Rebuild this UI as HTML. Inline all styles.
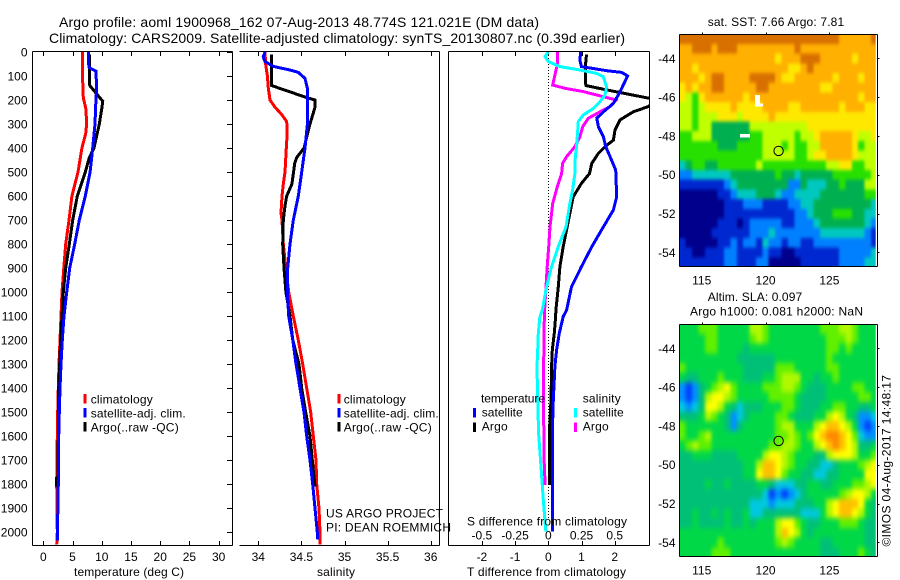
<!DOCTYPE html>
<html lang="en">
<head>
<meta charset="utf-8">
<title>Argo profile 1900968_162</title>
<style>
html,body{margin:0;padding:0;background:#fff;width:900px;height:580px;overflow:hidden}
svg{display:block;font-family:"Liberation Sans",sans-serif;font-size:12px;fill:#000}
text{fill:#000}
</style>
</head>
<body>
<svg id="chart" xmlns="http://www.w3.org/2000/svg" width="900" height="580" viewBox="0 0 900 580">
<defs>
<clipPath id="clip-diff"><rect x="449" y="52" width="200" height="493"/></clipPath>
<clipPath id="clip-map1"><rect x="679.3" y="34.3" width="196.4" height="231.7"/></clipPath>
<clipPath id="clip-map2"><rect x="679.3" y="324.3" width="196.4" height="231.7"/></clipPath>
<filter id="soft-sst" filterUnits="userSpaceOnUse" x="660" y="20" width="240" height="260" color-interpolation-filters="sRGB">
<feGaussianBlur in="SourceGraphic" stdDeviation="1.3 1.9" result="b"/>
<feMerge><feMergeNode in="SourceGraphic"/><feMergeNode in="b"/></feMerge>
</filter>
<filter id="soft-sla" filterUnits="userSpaceOnUse" x="660" y="310" width="240" height="260" color-interpolation-filters="sRGB">
<feGaussianBlur in="SourceGraphic" stdDeviation="1.8 2.6" result="b"/>
<feMerge><feMergeNode in="SourceGraphic"/><feMergeNode in="b"/></feMerge>
</filter>
</defs>
<text x="59" y="27" font-size="14" textLength="480">Argo profile: aoml 1900968_162 07-Aug-2013 48.774S 121.021E (DM data)</text>
<text x="49" y="43" font-size="14" textLength="576">Climatology: CARS2009. Satellite-adjusted climatology: synTS_20130807.nc (0.39d earlier)</text>
<g id="layer-maps"></g>
<g id="layer-lines"></g>

<text x="74" y="576" textLength="110">temperature (deg C)</text>
<text x="317" y="576" textLength="38">salinity</text>
<text x="467" y="576" textLength="159">T difference from climatology</text>
<text x="467" y="525.5" textLength="160">S difference from climatology</text>

<g>
<rect x="83.5" y="394" width="3" height="9.5" fill="#f00"/>
<rect x="83.5" y="408" width="3" height="9.5" fill="#00f"/>
<rect x="83.5" y="422" width="3" height="9.5" fill="#000"/>
<text x="90.7" y="403.3" textLength="62">climatology</text>
<text x="90.7" y="417.3" textLength="95">satellite-adj. clim.</text>
<text x="90.7" y="431.3" textLength="88">Argo(..raw -QC)</text>
</g>
<g>
<rect x="337.5" y="394" width="3" height="9.5" fill="#f00"/>
<rect x="337.5" y="408" width="3" height="9.5" fill="#00f"/>
<rect x="337.5" y="422" width="3" height="9.5" fill="#000"/>
<text x="343.7" y="403.3" textLength="62">climatology</text>
<text x="343.7" y="417.3" textLength="95">satellite-adj. clim.</text>
<text x="343.7" y="431.3" textLength="88">Argo(..raw -QC)</text>
</g>
<g>
<text x="481" y="402.7" textLength="64">temperature</text>
<text x="582.7" y="402.7" textLength="38">salinity</text>
<rect x="473" y="408" width="3" height="9.5" fill="#00f"/>
<rect x="473" y="422.5" width="3" height="9.5" fill="#000"/>
<rect x="574" y="408" width="3" height="9.5" fill="#0ff"/>
<rect x="574" y="422.5" width="3" height="9.5" fill="#f0f"/>
<text x="481.7" y="416.7" textLength="41">satellite</text>
<text x="481.7" y="430.7" textLength="26">Argo</text>
<text x="582.7" y="416.7" textLength="41">satellite</text>
<text x="582.7" y="430.7" textLength="26">Argo</text>
</g>
<text x="326" y="517.3" textLength="117">US ARGO PROJECT</text>
<text x="326" y="531.7" textLength="125">PI: DEAN ROEMMICH</text>

<text x="707.7" y="26" textLength="136.5">sat. SST: 7.66 Argo: 7.81</text>
<text x="707.7" y="301" textLength="94.5">Altim. SLA: 0.097</text>
<text x="690" y="315.7" textLength="173">Argo h1000: 0.081 h2000: NaN</text>
<text transform="translate(890.5,546.5) rotate(-90)" x="0" y="0" textLength="171.5">©IMOS 04-Aug-2017 14:48:17</text>
</svg>
<script>
// ---- profile data: depths (m) and values ----
const tempClimDepth = [0,100,190,240,300,340,400,500,600,700,800,900,1000,1100,1200,1300,1400,1500,1600,1800,2000,2052];
const tempClim = [6.68,6.7,6.85,7.3,7.4,7.25,6.6,5.94,4.9,4.4,3.83,3.5,3.2,3.03,2.86,2.69,2.57,2.46,2.4,2.29,2.4,2.29];
const tempSatDepth = [0,50,65,80,150,200,300,400,500,600,700,800,900,1000,1100,1200,1300,1400,1500,1600,1700,1800,1900,2000,2035];
const tempSat = [7.7,7.75,7.85,9.0,9.13,9.0,8.85,8.45,8.0,7.19,6.16,5.37,4.51,4.0,3.54,3.25,3.03,2.86,2.74,2.63,2.57,2.57,2.5,2.4,2.4];
const tempArgoDepth = [10,130,140,205,230,300,400,440,500,600,700,800,900,1000,1100,1200,1300,1400,1500,1600,1770,1775,1810];
const tempArgo = [7.87,7.87,7.95,10.16,10.04,9.58,8.67,7.87,7.19,5.82,5.03,4.45,3.83,3.42,3.2,2.98,2.81,2.63,2.57,2.57,2.5,2.22,2.22];

const salClimDepth = [0,50,100,150,200,230,260,290,340,400,500,550,600,670,700,800,900,1000,1100,1200,1300,1400,1500,1600,1700,1800,1900,2000,2052];
const salClim = [34.078,34.085,34.105,34.116,34.136,34.194,34.27,34.33,34.335,34.325,34.31,34.29,34.275,34.263,34.275,34.29,34.32,34.353,34.406,34.464,34.515,34.561,34.608,34.638,34.669,34.677,34.704,34.716,34.716];
const salSatDepth = [0,20,40,60,75,85,110,150,300,400,500,600,700,800,900,1000,1100,1200,1300,1400,1500,1600,1700,1800,1900,2000,2030];
const salSat = [34.078,34.058,34.078,34.174,34.368,34.464,34.542,34.568,34.57,34.542,34.503,34.464,34.406,34.368,34.341,34.337,34.353,34.4,34.437,34.484,34.53,34.561,34.6,34.631,34.658,34.684,34.69];
const salArgoDepth = [10,130,140,190,200,230,300,400,440,465,550,600,640,700,800,900,1000,1100,1200,1300,1400,1500,1600,1700,1810];
const salArgo = [34.155,34.155,34.155,34.561,34.658,34.658,34.6,34.53,34.445,34.422,34.39,34.33,34.31,34.29,34.283,34.298,34.32,34.368,34.4,34.472,34.503,34.55,34.6,34.626,34.658];

const dTSatDepth = [0,33,61,78,85,100,131,172,214,249,276,311,353,394,436,492,603,658,728,811,894,978,1075,1102,1171,1241,1310,1449,1588,1998];
const dTSat = [0.98,0.95,1.0,1.76,2.21,2.39,2.28,2.14,1.96,1.66,1.46,1.51,1.66,1.73,1.86,2.03,2.06,1.96,1.66,1.31,1.0,0.7,0.55,0.45,0.33,0.25,0.2,0.15,0.12,0.12];
const dTArgoDepth = [10,54,131,140,158,200,228,249,283,325,367,394,422,464,506,547,603,728,811,894,978,1075,1102,1171,1241,1310,1449,1588,1804];
const dTArgo = [1.15,1.12,1.12,1.14,1.76,3.3,3.0,2.56,2.16,2.01,1.96,1.71,1.51,1.31,1.24,1.0,0.75,0.57,0.45,0.35,0.3,0.23,0.22,0.18,0.12,0.1,0.08,0.03,0.03];
const dSSatDepth = [0,19,40,61,75,89,103,144,179,207,235,262,290,332,394,436,506,575,644,728,811,894,978,1075,1102,1171,1241,1310,1449,1588,1727,1866,1998];
const dSSat = [0,-0.025,0,0.088,0.238,0.364,0.414,0.439,0.427,0.389,0.339,0.264,0.226,0.221,0.213,0.203,0.2,0.183,0.158,0.133,0.075,0.025,-0.013,-0.045,-0.063,-0.075,-0.08,-0.085,-0.08,-0.073,-0.055,-0.038,-0.018];
const dSArgoDepth = [0,54,75,138,151,165,186,200,228,249,276,311,353,394,436,464,506,561,631,728,811,894,1075,1171,1310,1449,1588,1727,1804];
const dSArgo = [0.068,0.068,0.058,0.033,0.126,0.264,0.414,0.51,0.464,0.389,0.301,0.259,0.238,0.2,0.138,0.108,0.1,0.068,0.033,0.013,0.003,-0.008,-0.028,-0.033,-0.035,-0.038,-0.033,-0.03,-0.023];

// ---- tick labels ----
const depthTicks = [0,100,200,300,400,500,600,700,800,900,1000,1100,1200,1300,1400,1500,1600,1700,1800,1900,2000];
const tempTicks = [0,5,10,15,20,25,30];
const salTicks = [34,34.5,35,35.5,36];
const dTTicks = [-2,-1,0,1,2];
const dSTicks = [-0.5,-0.25,0,0.25,0.5];
const dSTickLabels = ["-0.5","-0.25","0","0.25","0.5"];
const lonTicks = [115,120,125];
const latTicks = [-44,-46,-48,-50,-52,-54];
const argoLon = 121.021;
const argoLat = -48.774;

// ---- map data: colour level per 0.5-degree cell, rows north to south ----
const sstLevels = [
[9,9,9,9,9,9,9,9,9,9,9,9,9,9,9,9,9,9,9,9,9,9,9,9,9,8,8,8,8,8,9],
[8,8,9,9,9,8,9,9,9,8,8,8,8,8,8,8,8,8,9,8,8,8,8,8,8,8,8,8,8,8,8],
[8,8,8,8,8,8,8,8,8,8,8,8,8,8,8,7,8,8,8,9,9,9,8,8,8,8,8,7,8,8,8],
[8,8,7,8,8,8,8,8,8,8,8,8,8,8,8,8,8,7,7,8,9,8,8,8,8,8,8,8,8,8,8],
[8,8,8,7,8,9,9,8,8,8,8,9,9,9,9,8,7,7,8,8,8,8,8,8,7,8,8,8,7,8,8],
[7,8,7,8,8,9,9,8,8,8,8,8,9,9,8,8,8,8,8,8,8,8,7,7,8,8,8,8,8,8,8],
[7,6,5,7,8,8,8,8,8,8,7,8,8,8,8,8,8,8,8,8,8,8,8,8,8,8,8,8,7,8,8],
[6,6,5,6,7,7,7,7,8,7,7,7,7,8,8,8,8,7,7,8,8,8,8,8,8,7,8,8,8,7,7],
[6,6,5,6,6,6,7,7,7,6,7,7,7,7,8,7,7,7,7,7,7,7,7,7,7,7,7,7,7,7,7],
[6,6,5,6,6,4,4,4,4,4,4,6,6,6,6,6,6,6,6,6,7,7,7,7,7,7,7,7,7,7,7],
[5,5,6,6,6,4,4,4,4,4,4,5,5,6,6,6,6,6,5,6,6,7,8,8,8,8,8,7,6,6,7],
[5,5,5,5,5,5,4,4,4,5,5,5,5,6,6,6,5,6,5,5,6,6,8,8,8,8,8,7,5,6,6],
[5,5,5,5,5,5,5,5,5,5,5,5,5,6,6,6,6,6,5,5,6,7,7,8,8,8,8,7,6,6,6],
[3,4,5,5,4,4,5,5,5,5,5,5,6,5,5,5,5,5,5,5,5,5,5,6,6,7,7,5,5,6,6],
[2,2,3,3,3,3,3,3,4,4,4,4,4,4,4,5,4,4,3,4,4,4,4,4,5,5,5,5,5,5,6],
[1,1,1,1,1,1,1,2,3,4,4,4,4,4,4,4,4,2,2,4,3,3,3,4,4,5,4,4,4,6,6],
[0,0,0,0,0,0,1,1,2,3,3,3,4,4,4,3,2,2,3,3,3,3,4,4,4,4,4,4,4,5,5],
[0,0,0,0,0,0,0,1,1,1,2,2,2,1,1,1,1,2,2,3,3,4,4,4,4,4,4,4,4,4,3],
[0,0,0,0,0,0,0,1,1,1,1,1,1,1,1,1,1,1,2,2,3,4,4,4,5,5,5,4,4,3,3],
[0,0,0,0,0,0,1,1,1,0,1,2,2,2,2,2,1,1,2,2,2,3,4,4,4,4,4,4,4,3,2],
[0,0,0,0,0,1,1,1,1,1,1,2,2,2,3,2,2,2,2,2,2,2,3,3,3,3,3,3,3,2,1],
[1,0,0,0,0,0,1,1,2,1,2,2,1,3,2,2,1,2,2,1,1,2,2,2,2,2,2,2,2,2,1],
[1,1,0,0,1,1,1,2,2,1,1,1,1,2,1,1,0,0,1,1,1,1,1,1,1,2,2,2,2,2,3],
[1,1,1,1,1,1,1,2,2,1,1,1,2,2,0,0,0,0,0,1,1,1,1,1,1,2,2,2,2,3,3]
];
const slaLevels = [
[4,4,4,5,5,5,4,4,4,4,4,6,6,5,4,4,4,4,4,4,4,4,5,5,5,6,6,5,4,4,4],
[4,4,4,4,5,5,4,4,4,4,4,5,6,5,4,4,4,4,4,4,4,4,4,5,5,5,6,5,4,4,4],
[4,4,4,4,5,5,4,4,4,4,3,4,4,4,4,4,4,4,4,4,4,4,4,5,5,4,5,4,4,4,4],
[4,4,4,4,4,4,4,4,4,3,3,3,3,3,3,4,4,4,4,4,4,4,4,5,4,4,4,4,4,4,4],
[5,4,4,4,4,4,4,4,4,4,3,3,3,3,3,5,5,5,4,4,4,4,4,5,5,4,4,4,4,4,4],
[4,3,3,4,4,4,5,4,4,4,3,3,3,4,4,5,6,6,6,4,4,3,4,4,5,4,4,4,4,4,4],
[1,0,1,3,4,5,6,7,5,4,4,4,4,5,5,5,6,6,5,4,3,3,3,4,4,4,4,5,5,4,4],
[1,0,1,3,6,7,7,6,5,4,4,4,4,4,5,5,5,5,4,3,3,3,3,4,4,4,4,4,5,5,4],
[2,1,2,3,7,7,6,4,3,2,3,3,3,4,4,4,5,5,4,3,3,3,4,4,5,5,4,4,3,3,4],
[3,3,3,4,6,5,4,3,1,2,3,4,4,4,4,5,5,4,3,3,3,4,4,6,7,6,4,3,1,1,2],
[5,4,4,4,4,4,4,3,1,3,4,4,4,4,4,5,6,6,4,4,4,6,7,8,8,7,6,4,1,0,1],
[5,4,4,5,6,4,4,4,4,4,4,4,4,4,4,5,5,6,5,4,5,7,8,9,9,8,7,5,2,1,1],
[4,5,6,5,5,4,4,4,4,4,4,4,4,4,5,5,6,6,5,4,4,6,7,8,9,8,7,6,3,3,4],
[3,3,4,4,4,3,3,3,3,4,4,4,4,6,7,7,6,5,4,4,4,3,3,6,7,7,7,6,4,4,5],
[3,3,3,3,3,3,3,3,3,3,4,4,6,8,8,7,6,5,4,4,3,3,2,2,3,4,4,4,5,6,7],
[3,3,3,3,3,3,3,3,3,3,4,4,7,8,8,7,5,4,4,3,3,2,2,3,3,4,4,4,4,7,7],
[3,3,3,3,4,3,3,4,3,3,3,3,4,4,3,2,2,2,3,3,4,4,3,3,4,4,4,5,5,6,7],
[3,3,3,3,3,3,3,3,3,3,3,3,3,2,0,1,0,1,2,3,4,4,4,4,4,5,6,7,7,6,4],
[3,3,3,3,3,3,3,3,3,3,3,2,2,2,1,2,2,2,3,3,3,4,4,6,7,8,8,8,7,4,3],
[3,3,4,3,3,4,3,4,3,3,4,2,2,3,3,3,3,3,3,2,2,2,4,6,7,8,8,7,6,4,3],
[3,3,4,3,3,3,3,4,3,3,4,3,4,4,4,6,7,7,5,4,3,3,4,4,4,5,5,5,4,3,3],
[4,4,4,4,4,4,4,4,4,4,4,4,4,4,4,6,8,7,6,4,3,4,4,4,4,4,4,4,4,3,3],
[4,4,4,4,4,4,5,4,4,4,4,4,4,4,4,5,6,5,4,4,4,4,3,3,4,4,4,4,4,3,3],
[4,4,4,4,4,5,5,5,4,4,4,4,4,4,4,4,4,4,4,4,4,4,3,3,3,4,4,4,5,4,3]
];

const NS = "http://www.w3.org/2000/svg";
const linesLayer = document.getElementById("layer-lines");
const mapsLayer = document.getElementById("layer-maps");

// ---- axis functions ----
const yDepth = d => 52 + 0.2401 * d;
const xTemp = v => 43.3 + 5.845 * v;
const xSal = v => 258.3 + 86.2 * (v - 34);
const xDT = v => 548.3 + 33.2 * v;
const xDS = v => 548.3 + 132.8 * v;
const xLon = v => 701.7 + 12.77 * (v - 115);
const yLat1 = v => 58.3 + 19.4 * (-44 - v);
const yLat2 = v => 348.3 + 19.4 * (-44 - v);

function seg(parent, x1, y1, x2, y2) {
  const el = document.createElementNS(NS, "line");
  el.setAttribute("x1", x1);
  el.setAttribute("y1", y1);
  el.setAttribute("x2", x2);
  el.setAttribute("y2", y2);
  el.setAttribute("stroke", "#000");
  el.setAttribute("stroke-width", "1");
  el.setAttribute("shape-rendering", "crispEdges");
  parent.appendChild(el);
  return el;
}
function label(parent, str, x, y, anchor) {
  const el = document.createElementNS(NS, "text");
  el.setAttribute("x", x);
  el.setAttribute("y", y);
  el.setAttribute("text-anchor", anchor);
  el.textContent = str;
  parent.appendChild(el);
  return el;
}
function profile(parent, depths, values, xFn, color, width) {
  const el = document.createElementNS(NS, "polyline");
  el.setAttribute("points", depths.map((d, i) => xFn(values[i]).toFixed(1) + "," + yDepth(d).toFixed(1)).join(" "));
  el.setAttribute("fill", "none");
  el.setAttribute("stroke", color);
  el.setAttribute("stroke-width", width);
  el.setAttribute("stroke-linejoin", "miter");
  el.setAttribute("shape-rendering", "crispEdges");
  parent.appendChild(el);
  return el;
}

// ---- frames ----
function frame(left, right, hasLeft, name) {
  const g = document.createElementNS(NS, "g");
  
  
  linesLayer.appendChild(g);
  const top = seg(g, left, 51.5, right, 51.5);
  
  
  const bottom = seg(g, left, 545.5, right, 545.5);
  
  
  const rightSpine = seg(g, right, 51.5, right, 545.5);
  
  
  if (hasLeft) {
    const leftSpine = seg(g, left, 51.5, left, 545.5);
    
    
  }
  return g;
}
const tempFrame = frame(32.5, 232.5, true, "temperature-panel");
const salFrame = frame(239.5, 439.5, false, "salinity-panel");
const diffFrame = frame(448.5, 649.5, true, "difference-panel");

// ---- depth ticks ----
depthTicks.forEach(d => {
  const y = yDepth(d);
  const t = seg(tempFrame, 227, Math.round(y) + 0.5, 232, Math.round(y) + 0.5);
  
  
  const l = label(tempFrame, String(d), 27.5, y + 4.5, "end");
  
  
});

// ---- x ticks ----
function xTicks(parent, ticks, labels, xFn, baseline, drawMarks, name) {
  ticks.forEach((v, i) => {
    const x = Math.round(xFn(v)) + 0.5;
    if (drawMarks) {
      const a = seg(parent, x, 52, x, 56);
      
      
      const b = seg(parent, x, 541, x, 545);
      
      
    }
    const l = label(parent, labels[i], xFn(v), baseline, "middle");
    
    
  });
}
xTicks(tempFrame, tempTicks, tempTicks.map(String), xTemp, 561, true, "temperature");
xTicks(salFrame, salTicks, salTicks.map(String), xSal, 561, true, "salinity");
xTicks(diffFrame, dTTicks, dTTicks.map(String), xDT, 561, true, "t-difference");
xTicks(diffFrame, dSTicks, dSTickLabels, xDS, 539.3, false, "s-difference");

// ---- temperature series ----
const tc = profile(tempFrame, tempClimDepth, tempClim, xTemp, "#f00", 3);


const ta = profile(tempFrame, tempArgoDepth, tempArgo, xTemp, "#000", 3);


const ts = profile(tempFrame, tempSatDepth, tempSat, xTemp, "#00f", 3);



// ---- salinity series ----
const sc = profile(salFrame, salClimDepth, salClim, xSal, "#f00", 3);


const sa = profile(salFrame, salArgoDepth, salArgo, xSal, "#000", 3);


const ss = profile(salFrame, salSatDepth, salSat, xSal, "#00f", 3);



// ---- difference series ----
const diffClip = document.createElementNS(NS, "g");
diffClip.setAttribute("clip-path", "url(#clip-diff)");


diffFrame.appendChild(diffClip);
const zero = seg(diffClip, 548.5, 52, 548.5, 520);
zero.setAttribute("stroke-dasharray", "1 2");


const dm = profile(diffClip, dSArgoDepth, dSArgo, xDS, "#f0f", 3);


const dk = profile(diffClip, dTArgoDepth, dTArgo, xDT, "#000", 3);


const db = profile(diffClip, dTSatDepth, dTSat, xDT, "#00f", 3);


const dc = profile(diffClip, dSSatDepth, dSSat, xDS, "#0ff", 3);



// ---- maps ----
const lonStart = 113.25;
const latStart = -42.76;
const cellDeg = 0.5;
const sstColors = ["#00008c","#0028d0","#0080ff","#00c8c0","#00b050","#28e000","#c0ff00","#ffe800","#ffb000","#d87000"];
const slaColors = ["#0040ff","#0090ff","#00c8e0","#00c078","#00d848","#60f000","#b0f800","#ffff00","#ffc000","#ff8800"];

function drawMap(levels, colors, yLat, clipId, filterId, name, tickBaseline, frameTop, frameBottom) {
  const g = document.createElementNS(NS, "g");
  
  
  mapsLayer.appendChild(g);
  const clipper = document.createElementNS(NS, "g");
  clipper.setAttribute("clip-path", "url(#" + clipId + ")");
  g.appendChild(clipper);
  const cells = document.createElementNS(NS, "g");
  cells.setAttribute("filter", "url(#" + filterId + ")");
  cells.setAttribute("shape-rendering", "crispEdges");
  clipper.appendChild(cells);
  levels.forEach((row, r) => {
    row.forEach((v, c) => {
      const x0 = xLon(lonStart + c * cellDeg);
      const x1 = xLon(lonStart + (c + 1) * cellDeg);
      const y0 = yLat(latStart - r * cellDeg);
      const y1 = yLat(latStart - (r + 1) * cellDeg);
      const el = document.createElementNS(NS, "rect");
      el.setAttribute("x", x0.toFixed(2));
      el.setAttribute("y", y0.toFixed(2));
      el.setAttribute("width", (x1 - x0 + 0.4).toFixed(2));
      el.setAttribute("height", (y1 - y0 + 0.4).toFixed(2));
      el.setAttribute("fill", colors[v]);
      
      
      cells.appendChild(el);
    });
  });
  const edges = [[679.5, frameTop, 877.5, frameTop], [679.5, frameBottom, 877.5, frameBottom], [679.5, frameTop, 679.5, frameBottom], [877.5, frameTop, 877.5, frameBottom]];
  edges.forEach(e => {
    const s = seg(g, e[0], e[1], e[2], e[3]);
    
    
  });
  lonTicks.forEach(v => {
    const x = Math.round(xLon(v)) + 0.5;
    const t = seg(g, x, frameTop - 2, x, frameTop);
    
    
    const l = label(g, String(v), xLon(v), tickBaseline, "middle");
    
    
  });
  latTicks.forEach(v => {
    const y = Math.round(yLat(v)) + 0.5;
    const t = seg(g, 877.5, y, 879.5, y);
    
    
    const l = label(g, String(v), 675.5, yLat(v) + 4.5, "end");
    
    
  });
  const marker = document.createElementNS(NS, "circle");
  marker.setAttribute("cx", xLon(argoLon).toFixed(1));
  marker.setAttribute("cy", yLat(argoLat).toFixed(1));
  marker.setAttribute("r", "4.7");
  marker.setAttribute("fill", "none");
  marker.setAttribute("stroke", "#000");
  marker.setAttribute("stroke-width", "1");
  
  
  g.appendChild(marker);
  return g;
}
const sstMap = drawMap(sstLevels, sstColors, yLat1, "clip-map1", "soft-sst", "sst-map", 284.7, 34.5, 266.5);
const slaMap = drawMap(slaLevels, slaColors, yLat2, "clip-map2", "soft-sla", "sla-map", 574.3, 324.5, 556.5);

// missing-data gaps in the SST map, given in degrees
const gapBoxes = [
  {lon: 119.18, lat: -45.88, dLon: 0.4, dLat: 0.48},
  {lon: 119.18, lat: -46.32, dLon: 0.62, dLat: 0.17},
  {lon: 117.99, lat: -47.9, dLon: 0.78, dLat: 0.19}
];
gapBoxes.forEach(b => {
  const el = document.createElementNS(NS, "rect");
  el.setAttribute("x", xLon(b.lon).toFixed(1));
  el.setAttribute("y", yLat1(b.lat).toFixed(1));
  el.setAttribute("width", (b.dLon * 12.77).toFixed(1));
  el.setAttribute("height", (b.dLat * 19.4).toFixed(1));
  el.setAttribute("fill", "#fff");
  el.setAttribute("shape-rendering", "crispEdges");
  
  
  sstMap.insertBefore(el, sstMap.children[1]);
});
</script>
</body>
</html>
